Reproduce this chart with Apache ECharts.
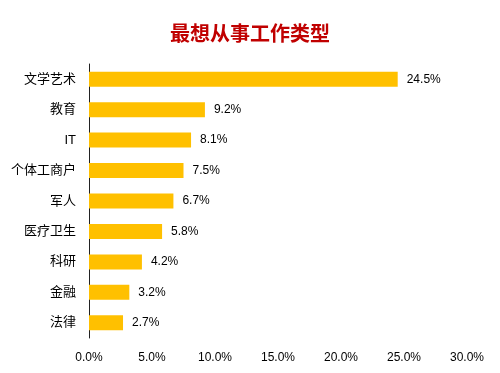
<!DOCTYPE html>
<html><head><meta charset="utf-8">
<script src="https://cdn.jsdelivr.net/npm/echarts@6/dist/echarts.min.js"></script>
<style>html,body{margin:0;padding:0;background:#fff}#c{width:500px;height:373px}</style>
</head><body><div id="c"></div>
<script>
const categories = ['文学艺术','教育','IT','个体工商户','军人','医疗卫生','科研','金融','法律'];
const values = [24.5, 9.2, 8.1, 7.5, 6.7, 5.8, 4.2, 3.2, 2.7];
const xTicks = [0, 5, 10, 15, 20, 25, 30];
const title = '最想从事工作类型';
const font = '"Liberation Sans","Noto Sans CJK SC",sans-serif';
const chart = echarts.init(document.getElementById('c'), null, {renderer:'canvas'});
chart.setOption({
  animation:false,
  backgroundColor:'#fff',
  title:{text:title,left:'center',top:18,textStyle:{fontSize:20,fontWeight:'bold',color:'#C00000',fontFamily:'"Noto Sans CJK SC",sans-serif'}},
  grid:{left:89,right:33,top:64,bottom:35,containLabel:false},
  xAxis:{type:'value',min:xTicks[0],max:xTicks[xTicks.length-1],interval:5,
    axisLine:{show:false},axisTick:{show:false},splitLine:{show:false},
    axisLabel:{margin:14,fontSize:12,color:'#000',fontFamily:font,formatter:v=>v.toFixed(1)+'%'}},
  yAxis:{type:'category',data:categories.slice().reverse(),
    axisLine:{show:true,lineStyle:{color:'#222',width:1}},axisTick:{show:false},
    axisLabel:{margin:13,fontSize:13,color:'#000',fontFamily:font}},
  series:[{type:'bar',data:values.slice().reverse(),barWidth:15,
    itemStyle:{color:'#FFC000'},
    label:{show:true,position:'right',distance:9,fontSize:12,color:'#000',fontFamily:font,formatter:p=>p.value.toFixed(1)+'%'}}]
});
</script></body></html>
